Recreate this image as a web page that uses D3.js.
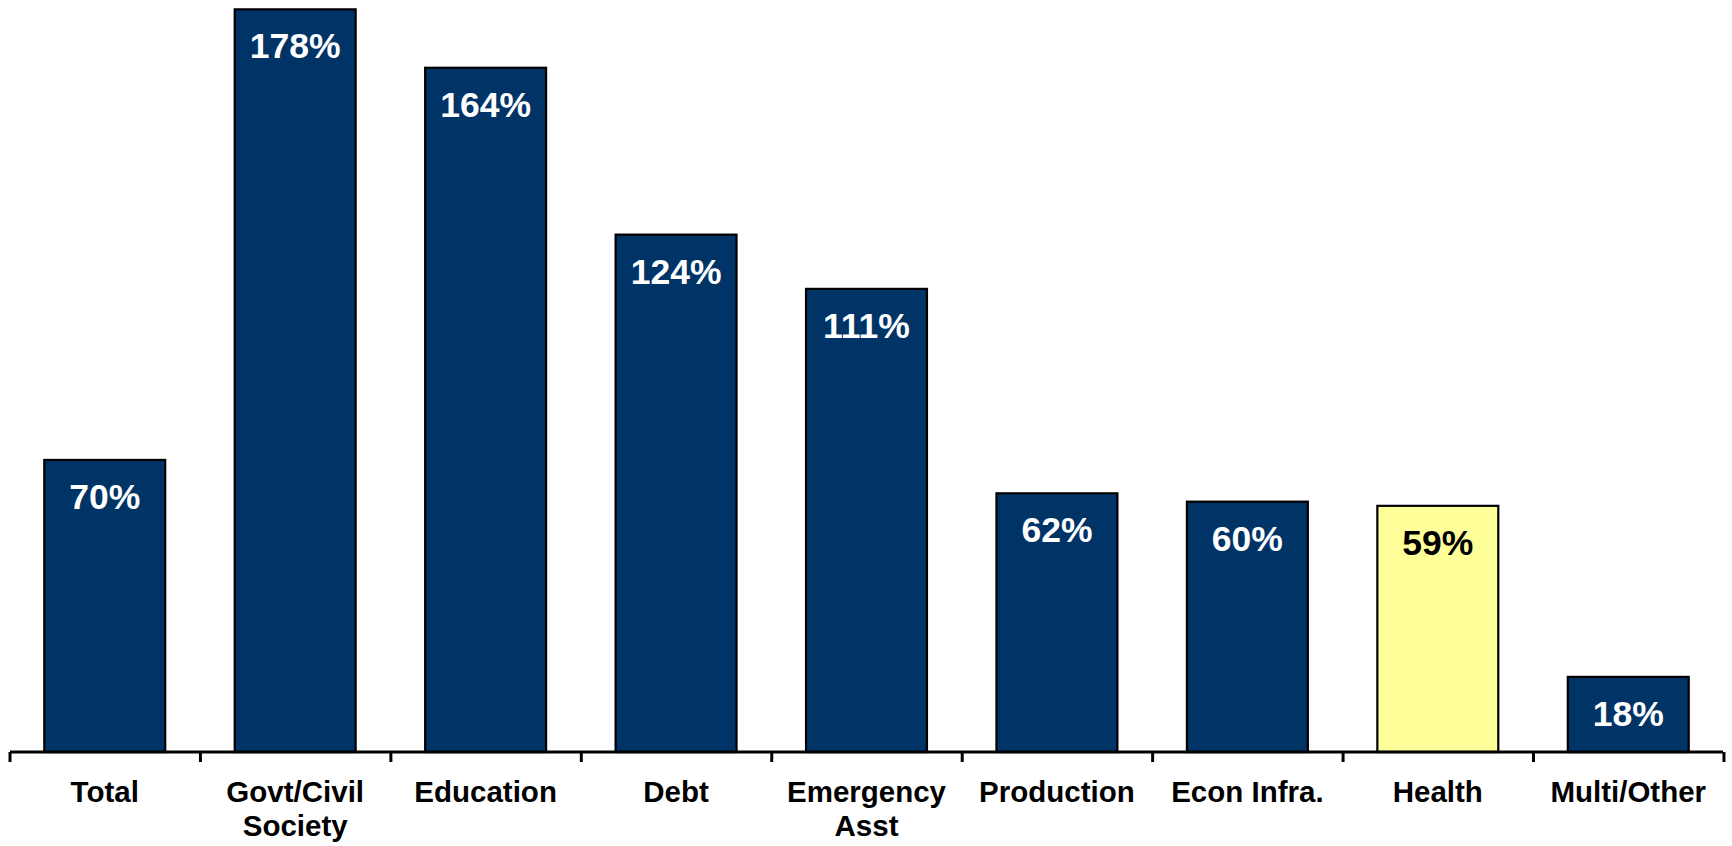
<!DOCTYPE html>
<html><head><meta charset="utf-8">
<script src="https://cdn.jsdelivr.net/npm/d3@7"></script>
<style>html,body{margin:0;padding:0;background:#fff;}svg{display:block;}</style>
</head><body>
<svg id="chart" width="1732" height="846"></svg>
<script>
const categories = ["Total", "Govt/Civil\nSociety", "Education", "Debt", "Emergency\nAsst", "Production", "Econ Infra.", "Health", "Multi/Other"];
const values = [70, 178, 164, 124, 111, 62, 60, 59, 18];
const highlight = ["Health"];

const svg = d3.select("#chart");
const baseY = 752;
const x = d3.scaleBand().domain(categories).range([10, 1723]).paddingInner(0.365).paddingOuter(0.18);
const y = d3.scaleLinear().domain([0, 180]).range([baseY, 1]);
const navy = "#003366", yellow = "#FFFF99";

svg.selectAll("rect.bar").data(categories).enter().append("rect")
  .attr("class", "bar")
  .attr("x", d => x(d))
  .attr("width", x.bandwidth())
  .attr("y", (d, i) => y(values[i]))
  .attr("height", (d, i) => baseY - y(values[i]))
  .attr("fill", d => highlight.includes(d) ? yellow : navy)
  .attr("stroke", "#000").attr("stroke-width", 2.2);

svg.selectAll("text.val").data(categories).enter().append("text")
  .attr("class", "val")
  .attr("x", d => x(d) + x.bandwidth() / 2)
  .attr("y", (d, i) => y(values[i]) + 49)
  .attr("text-anchor", "middle")
  .attr("font-family", "Liberation Sans, Arial, sans-serif")
  .attr("font-weight", "bold").attr("font-size", 35.5)
  .attr("fill", d => highlight.includes(d) ? "#000" : "#fff")
  .text((d, i) => values[i] + "%");

// axis
const step = x.step();
const axis = d3.axisBottom(x).tickSize(0).tickFormat("");
const g = svg.append("g").attr("transform", `translate(0,${baseY})`).call(axis);
g.select(".domain").attr("d", `M10,0H1723`).attr("stroke", "#000").attr("stroke-width", 3);
const edges = d3.range(categories.length + 1).map(i => 10 + i * step);
g.selectAll("line.tk").data(edges).enter().append("line")
  .attr("class", "tk").attr("x1", d => d).attr("x2", d => d)
  .attr("y1", 0).attr("y2", 10).attr("stroke", "#000").attr("stroke-width", 3);

const lab = svg.selectAll("text.cat").data(categories).enter().append("text")
  .attr("class", "cat")
  .attr("x", d => x(d) + x.bandwidth() / 2)
  .attr("y", 802)
  .attr("text-anchor", "middle")
  .attr("font-family", "Liberation Sans, Arial, sans-serif")
  .attr("font-weight", "bold").attr("font-size", 29.5)
  .attr("fill", "#000");
lab.each(function(d) {
  const lines = d.split("\n");
  const t = d3.select(this);
  lines.forEach((l, i) => {
    t.append("tspan").attr("x", x(d) + x.bandwidth() / 2).attr("dy", i === 0 ? 0 : 34).text(l);
  });
});
</script>
</body></html>
